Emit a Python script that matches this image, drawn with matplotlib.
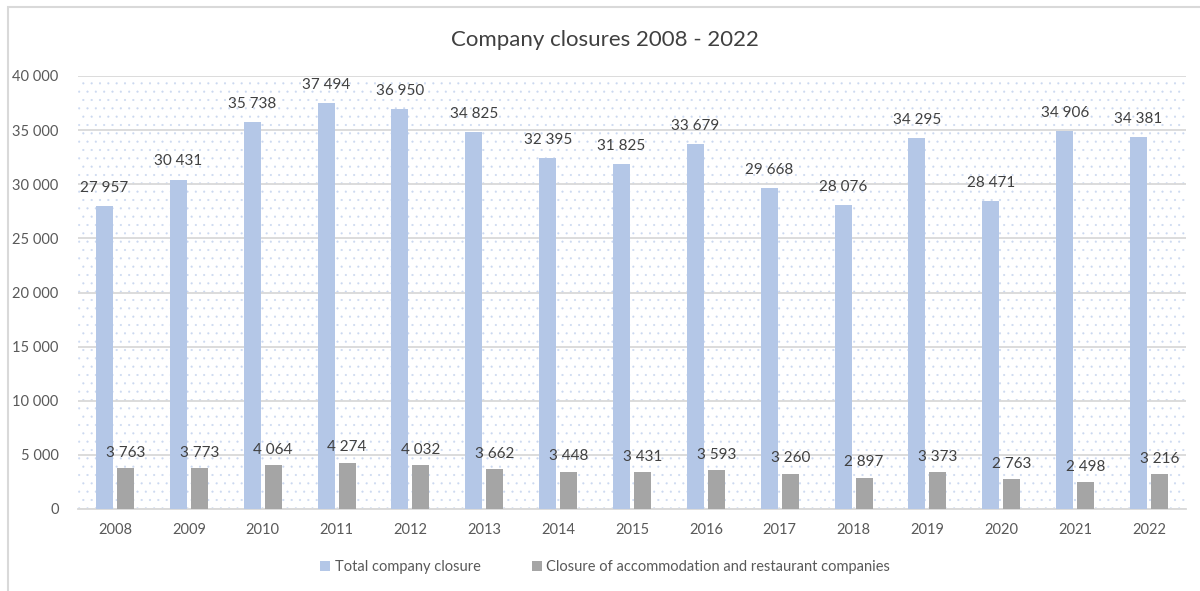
import matplotlib
matplotlib.use("Agg")
import matplotlib.pyplot as plt
from matplotlib.ticker import FuncFormatter, MultipleLocator
from matplotlib.patches import Rectangle
import numpy as np

years = ["2008", "2009", "2010", "2011", "2012", "2013", "2014", "2015",
         "2016", "2017", "2018", "2019", "2020", "2021", "2022"]
total_closures = [27957, 30431, 35738, 37494, 36950, 34825, 32395, 31825,
                  33679, 29668, 28076, 34295, 28471, 34906, 34381]
accommodation_closures = [3763, 3773, 4064, 4274, 4032, 3662, 3448, 3431,
                          3593, 3260, 2897, 3373, 2763, 2498, 3216]
series_names = ["Total company closure",
                "Closure of accommodation and restaurant companies"]
title = "Company closures 2008 - 2022"

FONT = ["Lato", "DejaVu Sans"]
plt.rcParams['font.family'] = FONT
plt.rcParams['hatch.color'] = '#cbd8f0'
plt.rcParams['hatch.linewidth'] = 0.3

BLUE = "#b4c7e7"
GREY = "#a5a5a5"
TXT = "#595959"

fig = plt.figure(figsize=(12, 5.91), dpi=100)
ax = fig.add_axes([78/1200, 1-509/591, (1186-78)/1200, (509-76)/591])

# figure border
fig.patches.append(Rectangle((8/1200, -0.02), 1.05, 1-7/591+0.02,
                             transform=fig.transFigure, fill=False,
                             edgecolor="#d9d9d9", linewidth=1.5, zorder=0))

x = np.arange(len(years))
w = 0.23
off = 0.142
b1 = ax.bar(x - off, total_closures, w, color=BLUE, label=series_names[0], zorder=3)
b2 = ax.bar(x + off, accommodation_closures, w, color=GREY, label=series_names[1], zorder=3)

fmt = lambda v: f"{int(v):,}".replace(",", " ")
for rect, v in zip(b1, total_closures):
    ax.annotate(fmt(v), (rect.get_x() + rect.get_width()/2, v), xytext=(0, 8),
                textcoords="offset points", ha="center", va="bottom",
                fontsize=11, color="#404040", zorder=4)
for rect, v in zip(b2, accommodation_closures):
    ax.annotate(fmt(v), (rect.get_x() + rect.get_width()/2, v), xytext=(0, 6),
                textcoords="offset points", ha="center", va="bottom",
                fontsize=11, color="#404040", zorder=4)

ax.set_xlim(-0.5, len(years) - 0.5)
ax.set_ylim(0, 40000)
ax.yaxis.set_major_locator(MultipleLocator(5000))
ax.yaxis.set_major_formatter(FuncFormatter(lambda v, p: fmt(v)))
ax.set_xticks(x)
ax.set_xticklabels(years)
ax.tick_params(axis="both", length=0, labelsize=10.5, colors=TXT)
ax.tick_params(axis="y", pad=14)
ax.tick_params(axis="x", pad=10)

ax.set_facecolor("white")
ax.patch.set_hatch("..")
ax.patch.set_edgecolor("#cbd8f0")
ax.patch.set_linewidth(0)
ax.grid(axis="y", color="#d9d9d9", linewidth=1.3, zorder=1)
ax.set_axisbelow(True)
for s in ["top", "right", "left"]:
    ax.spines[s].set_visible(False)
ax.spines["bottom"].set_color("#d9d9d9")
ax.spines["bottom"].set_linewidth(1.3)

fig.text(605/1200, 1-40/591, title, ha="center", va="center",
         fontsize=16, color="#404040")

leg = fig.legend(handles=[b1, b2], loc="center", bbox_to_anchor=(605/1200, 1-567/591),
                 ncol=2, frameon=False, fontsize=10.5, handlelength=0.7,
                 handleheight=0.7, handletextpad=0.3, columnspacing=3.5)
for t in leg.get_texts():
    t.set_color(TXT)

fig.savefig("out.png", dpi=100)
